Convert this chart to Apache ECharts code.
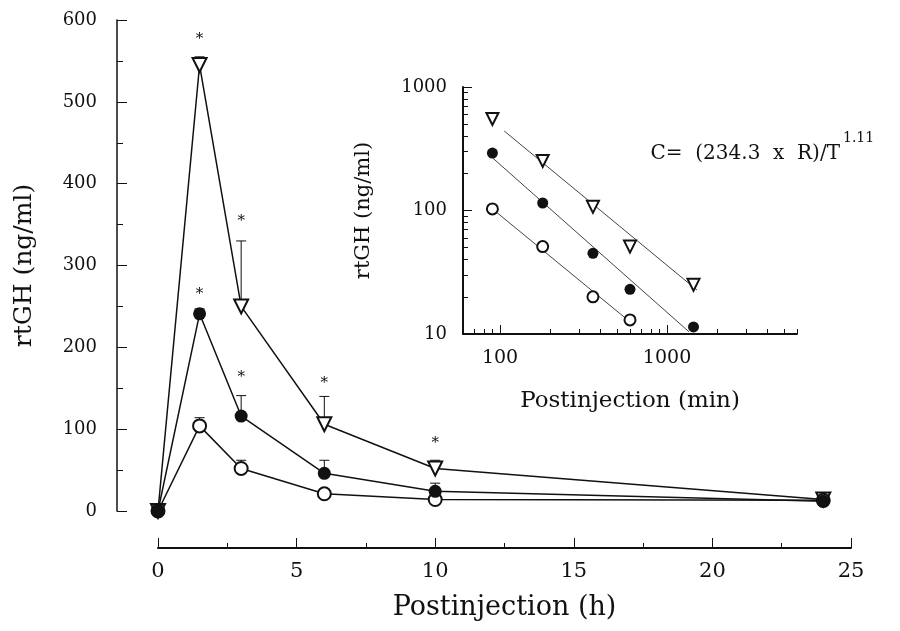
<!DOCTYPE html>
<html>
<head>
<meta charset="utf-8">
<script src="https://cdn.jsdelivr.net/npm/echarts@6/dist/echarts.min.js"></script>
<style>
  html, body { margin: 0; padding: 0; background: #fff; }
  #chart { width: 900px; height: 631px; }
</style>
</head>
<body>
<div id="chart"></div>
<script>
// main plot (hours)
const hours = [0, 1.5, 3, 6, 10, 24];
const triVals = [0, 545, 250, 106, 52, 14];
const filledVals = [0, 241, 116, 46, 24, 12];
const openVals = [0, 104, 52, 21, 14, 13];
const triErr = [null, 555, 330, 140, 62, null];
const filledErr = [null, 247, 141, 62, 34, null];
const openErr = [null, 114, 62, null, null, null];
const starX = [1.5, 3, 1.5, 3, 6, 10];
const starY = [581, 359, 270, 169, 161, 88];

// inset (log-log, minutes)
const minutes = [90, 180, 360, 600, 1440];
const triLog = [551, 252, 107, 51, 25];
const filledLog = [292, 115, 45, 23, 11.4];
const openLog = [103, 51, 20, 13];
const triFit = [[106, 440], [1510, 22.7]];
const filledFit = [[90.4, 266], [1355, 10.4]];
const openFit = [[90, 103], [634, 11.8]];
const xMinor = [70, 80, 90, 200, 300, 400, 500, 600, 700, 800, 900, 2000, 3000, 4000, 5000, 6000];
const yMinor = [20, 30, 40, 50, 60, 70, 80, 90, 200, 300, 400, 500, 600, 700, 800, 900];

const FONT = "DejaVu Serif";
const INK = "#111";

function pairs(xs, ys) {
  return ys.map((v, i) => [xs[i], v]);
}
function errData(vals, errs) {
  const out = [];
  errs.forEach((e, i) => { if (e != null) out.push([hours[i], vals[i], e]); });
  return out;
}

function renderErr(params, api) {
  const p = api.coord([api.value(0), api.value(1)]);
  const t = api.coord([api.value(0), api.value(2)]);
  return {
    type: "group",
    children: [
      { type: "line", shape: { x1: p[0], y1: p[1], x2: t[0], y2: t[1] }, style: { stroke: INK, lineWidth: 1 } },
      { type: "line", shape: { x1: t[0] - 5, y1: t[1], x2: t[0] + 5, y2: t[1] }, style: { stroke: INK, lineWidth: 1 } }
    ]
  };
}

function renderStar(params, api) {
  const p = api.coord([api.value(0), api.value(1)]);
  return {
    type: "text",
    x: p[0], y: p[1] + 4,
    style: { text: "*", fill: INK, font: "15px " + FONT, align: "center", verticalAlign: "middle" }
  };
}

const chart = echarts.init(document.getElementById("chart"));

const mainLine = (name, vals, symbol, size, rotate) => ({
  name: name,
  type: "line",
  xAxisIndex: 0, yAxisIndex: 0,
  data: pairs(hours, vals),
  symbol: symbol,
  symbolSize: size,
  symbolRotate: rotate || 0,
  showAllSymbol: true,
  lineStyle: { color: INK, width: 1.5 },
  itemStyle: { color: INK, borderWidth: 1.4 },
  z: 3
});

const insetScatter = (vals, symbol, size, rotate) => ({
  type: "scatter",
  xAxisIndex: 1, yAxisIndex: 1,
  data: pairs(minutes, vals),
  symbol: symbol,
  symbolSize: size,
  symbolRotate: rotate || 0,
  itemStyle: { color: INK, borderWidth: 1.2, opacity: 1 },
  z: 4
});

const fitLine = (pts) => ({
  type: "line",
  xAxisIndex: 1, yAxisIndex: 1,
  data: pts,
  symbol: "none",
  lineStyle: { color: "#444", width: 1 },
  z: 3
});

const plainLog = (v) => String(Math.round(v));

const option = {
  backgroundColor: "#fff",
  animation: false,
  grid: [
    { left: 158, right: 49, top: 20, bottom: 120 },
    { left: 463, right: 103, top: 87, bottom: 297 }
  ],
  xAxis: [
    {
      gridIndex: 0, type: "value", min: 0, max: 25, interval: 5,
      offset: 37,
      name: "Postinjection (h)", nameLocation: "middle", nameGap: 46,
      nameTextStyle: { fontFamily: FONT, fontSize: 27, color: INK },
      axisLine: { onZero: false, lineStyle: { color: INK, width: 2 } },
      axisTick: { inside: true, length: 10, lineStyle: { color: INK } },
      minorTick: { show: true, splitNumber: 2, length: 5, lineStyle: { color: INK } },
      axisLabel: { fontFamily: FONT, fontSize: 21, color: INK, margin: 13 },
      splitLine: { show: false }
    },
    {
      gridIndex: 1, type: "log", min: 60, max: 6000,
      name: "Postinjection (min)", nameLocation: "middle", nameGap: 56,
      nameTextStyle: { fontFamily: FONT, fontSize: 23, color: INK },
      axisLine: { onZero: false, lineStyle: { color: INK, width: 2 } },
      axisTick: { inside: true, length: 5, customValues: xMinor, lineStyle: { color: INK } },
      axisLabel: { show: false },
      splitLine: { show: false }
    },
    {
      gridIndex: 1, type: "log", min: 60, max: 6000, position: "bottom",
      axisLine: { show: false, onZero: false },
      axisTick: { inside: true, length: 9, customValues: [100, 1000], lineStyle: { color: INK } },
      axisLabel: { customValues: [100, 1000], formatter: plainLog, fontFamily: FONT, fontSize: 19, color: INK, margin: 15 },
      splitLine: { show: false }
    }
  ],
  yAxis: [
    {
      gridIndex: 0, type: "value", min: 0, max: 600, interval: 100,
      offset: 41,
      name: "rtGH (ng/ml)", nameLocation: "middle", nameGap: 80, nameRotate: 90,
      nameTextStyle: { fontFamily: FONT, fontSize: 25, color: INK },
      axisLine: { show: true, onZero: false, lineStyle: { color: INK, width: 1.5 } },
      axisTick: { show: true, inside: true, length: 10, lineStyle: { color: INK } },
      minorTick: { show: true, splitNumber: 2, length: 6, lineStyle: { color: INK } },
      axisLabel: { fontFamily: FONT, fontSize: 18, color: INK, margin: 20 },
      splitLine: { show: false }
    },
    {
      gridIndex: 1, type: "log", min: 10, max: 1000,
      name: "rtGH (ng/ml)", nameLocation: "middle", nameGap: 89, nameRotate: 90,
      nameTextStyle: { fontFamily: FONT, fontSize: 21, color: INK },
      axisLine: { show: true, onZero: false, lineStyle: { color: INK, width: 2 } },
      axisTick: { show: true, inside: true, length: 5, customValues: yMinor, lineStyle: { color: INK } },
      axisLabel: { show: false },
      splitLine: { show: false }
    },
    {
      gridIndex: 1, type: "log", min: 10, max: 1000, position: "left",
      axisLine: { show: false, onZero: false },
      axisTick: { show: true, inside: true, length: 9, customValues: [10, 100, 1000], lineStyle: { color: INK } },
      axisLabel: { customValues: [10, 100, 1000], formatter: plainLog, fontFamily: FONT, fontSize: 18, color: INK, margin: 16 },
      splitLine: { show: false }
    }
  ],
  graphic: [
    { type: "text", right: 60, top: 144, style: { text: "C=  (234.3  x  R)/T", font: "20px " + FONT, fill: INK } },
    { type: "text", left: 843, top: 131, style: { text: "1.11", font: "14px " + FONT, fill: INK } }
  ],
  series: [
    { type: "custom", xAxisIndex: 0, yAxisIndex: 0, renderItem: renderErr, data: errData(triVals, triErr), z: 1 },
    { type: "custom", xAxisIndex: 0, yAxisIndex: 0, renderItem: renderErr, data: errData(filledVals, filledErr), z: 1 },
    { type: "custom", xAxisIndex: 0, yAxisIndex: 0, renderItem: renderErr, data: errData(openVals, openErr), z: 1 },
    { type: "custom", xAxisIndex: 0, yAxisIndex: 0, renderItem: renderStar, data: pairs(starX, starY), z: 5 },
    mainLine("tri", triVals, "emptyTriangle", 14, 180),
    mainLine("open", openVals, "emptyCircle", 13),
    mainLine("filled", filledVals, "circle", 13),
    fitLine(triFit),
    fitLine(filledFit),
    fitLine(openFit),
    insetScatter(triLog, "emptyTriangle", 12, 180),
    insetScatter(filledLog, "circle", 11),
    insetScatter(openLog, "emptyCircle", 11)
  ]
};

chart.setOption(option);
</script>
</body>
</html>
